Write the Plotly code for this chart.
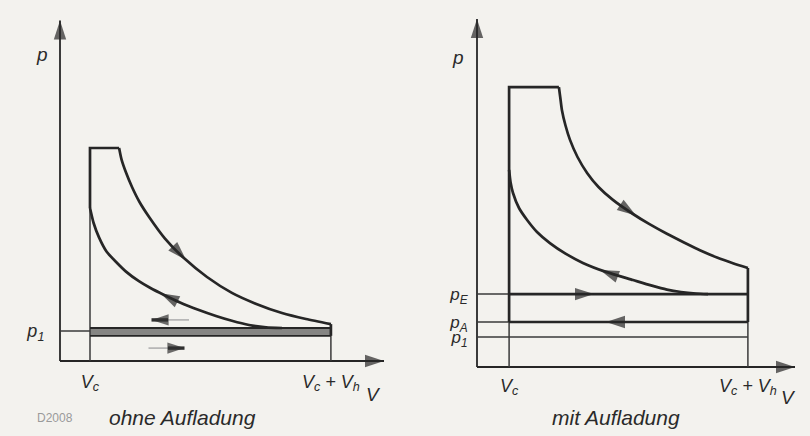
import plotly.graph_objects as go

# ---------------- data ----------------
# Left panel: "ohne Aufladung"
L_VC, L_VCH = 1.0, 9.03
L_P1 = 1.0
L_P_EXH, L_P_INT = 1.1, 0.84
L_P_MAX = 7.1
L_V_PLATEAU_END = 1.97
L_EXP_V = [1.97, 2.05, 2.2, 2.4, 2.65, 2.97, 3.5, 4.13, 4.9, 5.73, 6.5, 7.4, 8.2, 9.03]
L_EXP_P = [7.1, 6.72, 6.28, 5.8, 5.3, 4.8, 4.08, 3.43, 2.8, 2.27, 1.92, 1.6, 1.4, 1.23]
L_CMP_V = [1.0, 1.12, 1.3, 1.55, 1.87, 2.2, 2.63, 3.0, 3.47, 4.0, 4.63, 5.2, 5.73, 6.3, 6.87, 7.4]
L_CMP_P = [5.1, 4.6, 4.12, 3.65, 3.3, 2.98, 2.66, 2.44, 2.2, 1.95, 1.7, 1.5, 1.34, 1.2, 1.12, 1.1]
L_AXIS_V_END, L_AXIS_P_END = 10.8, 11.35
L_ARR_EXP = (4.2, 3.37, 3.9, 3.68)       # head V, head p, tail V, tail p
L_ARR_CMP = (3.35, 2.26, 3.75, 2.06)
L_ARR_OUT = (3.05, 1.37, 3.6, 1.37)      # exhaust arrow (left)
L_ARR_IN = (4.15, 0.43, 3.6, 0.43)       # intake arrow (right)
L_TAIL_OUT = (3.55, 4.3, 1.37)
L_TAIL_IN = (2.95, 3.65, 0.43)

# Right panel: "mit Aufladung"
R_VC, R_VCH = 1.07, 9.03
R_P1, R_PA, R_PE = 1.0, 1.5, 2.43
R_P_MAX = 9.33
R_V_PLATEAU_END = 2.73
R_EXP_V = [2.73, 2.78, 2.83, 2.95, 3.1, 3.35, 3.67, 4.05, 4.53, 5.2, 5.75, 6.33, 6.9, 7.43, 8.0, 8.53, 9.03]
R_EXP_P = [9.33, 8.95, 8.57, 8.05, 7.57, 7.0, 6.47, 6.0, 5.57, 5.1, 4.76, 4.44, 4.15, 3.89, 3.65, 3.46, 3.3]
R_CMP_V = [1.07, 1.12, 1.2, 1.4, 1.67, 2.0, 2.43, 2.95, 3.53, 4.3, 5.2, 5.8, 6.33, 6.8, 7.3, 7.7]
R_CMP_P = [6.57, 6.15, 5.8, 5.3, 4.9, 4.5, 4.13, 3.78, 3.47, 3.17, 2.9, 2.72, 2.58, 2.5, 2.45, 2.43]
R_AXIS_V_END, R_AXIS_P_END = 10.6, 11.6
R_ARR_EXP = (5.3, 5.05, 5.0, 5.25)
R_ARR_CMP = (4.1, 3.23, 4.55, 3.06)
R_ARR_PE = (3.9, R_PE, 3.4, R_PE)
R_ARR_PA = (4.3, R_PA, 4.8, R_PA)

# tick labels
X_TICKTEXT = ["<i>V<sub>c</sub></i>", "<i>V<sub>c</sub> + V<sub>h</sub></i>"]
L_Y_TICKTEXT = ["<i>p<sub>1</sub></i>"]
R_Y_TICKTEXT = ["<i>p<sub>E</sub></i>", "<i>p<sub>A</sub></i>", "<i>p<sub>1</sub></i>"]

# ---------------- styling / layout ----------------
W, H = 810, 436
BG = "#f3f2ee"
INK = "#262626"
THIN = "#3a3a3a"
FONT = "Liberation Sans"
TXT = "#2a2a2a"
THICK_W = 2.7
THIN_W = 1.5

fig = go.Figure()


def seg(xs, ys, xa, ya, w=THIN_W, color=THIN, smooth=False):
    fig.add_trace(go.Scatter(x=xs, y=ys, mode="lines", xaxis=xa, yaxis=ya,
                             line=dict(color=color, width=w,
                                       shape="spline" if smooth else "linear",
                                       smoothing=0.6),
                             hoverinfo="skip", showlegend=False))


def arrow(spec, xa, ya, color=INK, size=20, symbol="arrow"):
    hv, hp, tv, tp = spec
    fig.add_trace(go.Scatter(x=[tv, hv], y=[tp, hp], mode="markers",
                             xaxis=xa, yaxis=ya, cliponaxis=False,
                             marker=dict(symbol=symbol, size=[0, size], color=color,
                                         angleref="previous", line=dict(width=0)),
                             hoverinfo="skip", showlegend=False))


def axis_arrows(v_end, p_end, xa, ya):
    seg([0, 0], [0, p_end], xa, ya, 1.8, INK)
    seg([0, v_end], [0, 0], xa, ya, 1.8, INK)
    arrow((0, p_end, 0, 0), xa, ya, INK, 20)
    arrow((v_end, 0, 0, 0), xa, ya, INK, 20)


# ---- left panel ----
xa, ya = "x", "y"
axis_arrows(L_AXIS_V_END, L_AXIS_P_END, xa, ya)
seg([L_VC, L_VC], [0, L_P_MAX], xa, ya)
seg([L_VCH, L_VCH], [0, L_P_EXH], xa, ya)
seg([0, L_VC], [L_P1, L_P1], xa, ya)
# gas exchange band
fig.add_trace(go.Scatter(x=[L_VC, L_VCH], y=[L_P_INT, L_P_INT], mode="lines",
                         xaxis=xa, yaxis=ya, line=dict(color=INK, width=1.8),
                         hoverinfo="skip", showlegend=False))
fig.add_trace(go.Scatter(x=[L_VC, L_VCH], y=[L_P_EXH, L_P_EXH], mode="lines",
                         xaxis=xa, yaxis=ya, line=dict(color=INK, width=2.0),
                         fill="tonexty", fillcolor="rgba(60,60,60,0.6)",
                         hoverinfo="skip", showlegend=False))
# cycle
seg([L_VC, L_VC, L_V_PLATEAU_END], [L_CMP_P[0], L_P_MAX, L_P_MAX], xa, ya, THICK_W, INK)
seg(L_EXP_V, L_EXP_P, xa, ya, THICK_W, INK, True)
seg([L_VCH, L_VCH], [L_EXP_P[-1], L_P_INT], xa, ya, THICK_W, INK)
seg(L_CMP_V, L_CMP_P, xa, ya, THICK_W, INK, True)
# gas exchange arrows: light tail + dark head
seg([L_TAIL_OUT[0], L_TAIL_OUT[1]], [L_TAIL_OUT[2]] * 2, xa, ya, 1.6, "#b0b0b0")
seg([L_TAIL_IN[0], L_TAIL_IN[1]], [L_TAIL_IN[2]] * 2, xa, ya, 1.6, "#b0b0b0")
seg([L_ARR_OUT[0], L_ARR_OUT[2]], [L_ARR_OUT[1]] * 2, xa, ya, 3.4, "#303030")
seg([L_ARR_IN[0], L_ARR_IN[2]], [L_ARR_IN[1]] * 2, xa, ya, 3.4, "#303030")
arrow(L_ARR_EXP, xa, ya)
arrow(L_ARR_CMP, xa, ya)
arrow(L_ARR_OUT, xa, ya, "#303030", 18)
arrow(L_ARR_IN, xa, ya, "#303030", 18)

# ---- right panel ----
xa, ya = "x2", "y2"
axis_arrows(R_AXIS_V_END, R_AXIS_P_END, xa, ya)
seg([R_VC, R_VC], [0, R_PA], xa, ya)
seg([R_VCH, R_VCH], [0, R_PA], xa, ya)
seg([0, R_VCH], [R_P1, R_P1], xa, ya)
seg([0, R_VC], [R_PA, R_PA], xa, ya)
seg([0, R_VC], [R_PE, R_PE], xa, ya)
seg([R_VC, R_VC, R_V_PLATEAU_END], [R_PA, R_P_MAX, R_P_MAX], xa, ya, THICK_W, INK)
seg(R_EXP_V, R_EXP_P, xa, ya, THICK_W, INK, True)
seg([R_VCH, R_VCH], [R_EXP_P[-1], R_PA], xa, ya, THICK_W, INK)
seg(R_CMP_V, R_CMP_P, xa, ya, THICK_W, INK, True)
seg([R_VC, R_VCH], [R_PE, R_PE], xa, ya, THICK_W, INK)
seg([R_VC, R_VCH], [R_PA, R_PA], xa, ya, THICK_W, INK)
arrow(R_ARR_EXP, xa, ya)
arrow(R_ARR_CMP, xa, ya)
arrow(R_ARR_PE, xa, ya)
arrow(R_ARR_PA, xa, ya)


# ---- axes: map data units onto the picture (30 px per unit) ----
def axes_cfg(ox, oy, left_px, right_px, bottom_px, scale=30.0):
    xdom = [left_px / W, right_px / W]
    ydom = [(H - bottom_px) / H, 1.0]
    xr = [(left_px - ox) / scale, (right_px - ox) / scale]
    yr = [(oy - bottom_px) / scale, oy / scale]
    return xdom, ydom, xr, yr


common = dict(showgrid=False, zeroline=False, showline=False, fixedrange=True)
tickfont = dict(family=FONT, size=18, color=TXT)
tickfont_r = dict(family=FONT, size=17, color=TXT)
NOTICK = "rgba(0,0,0,0)"

L_OX, L_OY, R_OX, R_OY = 60, 361, 477, 367
xd, yd, xr, yr = axes_cfg(L_OX, L_OY, 52, 400, 372)
fig.update_layout(
    xaxis=dict(domain=xd, range=xr, tickvals=[L_VC, L_VCH], ticktext=X_TICKTEXT,
               anchor="free", position=(H - L_OY) / H,
               ticks="outside", ticklen=4, tickcolor=NOTICK,
               tickfont=tickfont, **common),
    yaxis=dict(domain=yd, range=yr, tickvals=[L_P1], ticktext=L_Y_TICKTEXT,
               anchor="free", position=L_OX / W,
               ticks="outside", ticklen=12, tickcolor=NOTICK,
               tickfont=tickfont, **common),
)
xd2, yd2, xr2, yr2 = axes_cfg(R_OX, R_OY, 468, 810, 378)
fig.update_layout(
    xaxis2=dict(domain=xd2, range=xr2, tickvals=[R_VC, R_VCH], ticktext=X_TICKTEXT,
                anchor="free", position=(H - R_OY) / H,
                ticks="outside", ticklen=2, tickcolor=NOTICK,
                tickfont=tickfont, **common),
    yaxis2=dict(domain=yd2, range=yr2, tickvals=[R_PE, R_PA, R_P1],
                ticktext=R_Y_TICKTEXT, anchor="free", position=R_OX / W,
                ticks="outside", ticklen=6, tickcolor=NOTICK,
                tickfont=tickfont_r, **common),
)


def ptext(px, py, text, size=19, color=TXT, xanchor="center"):
    fig.add_annotation(x=px / W, y=1 - py / H, xref="paper", yref="paper",
                       xanchor=xanchor, yanchor="middle", showarrow=False,
                       text=text, font=dict(family=FONT, size=size, color=color))


# axis names and captions
ptext(42, 54, "<i>p</i>")
ptext(373, 394, "<i>V</i>")
ptext(458, 57, "<i>p</i>")
ptext(788, 397, "<i>V</i>")
ptext(35, 418, "D2008", 12, "#9a9a9a", "left")
ptext(107, 417, "<i>ohne Aufladung</i>", 21, TXT, "left")
ptext(616, 417, "<i>mit Aufladung</i>", 21)

fig.update_layout(width=W, height=H, margin=dict(l=0, r=0, t=0, b=0),
                  paper_bgcolor=BG, plot_bgcolor="rgba(0,0,0,0)",
                  showlegend=False)

fig.write_html("out.html", config={"displayModeBar": False},
               post_script="document.body.style.margin='0';"
                           "document.body.style.background='" + BG + "';")
